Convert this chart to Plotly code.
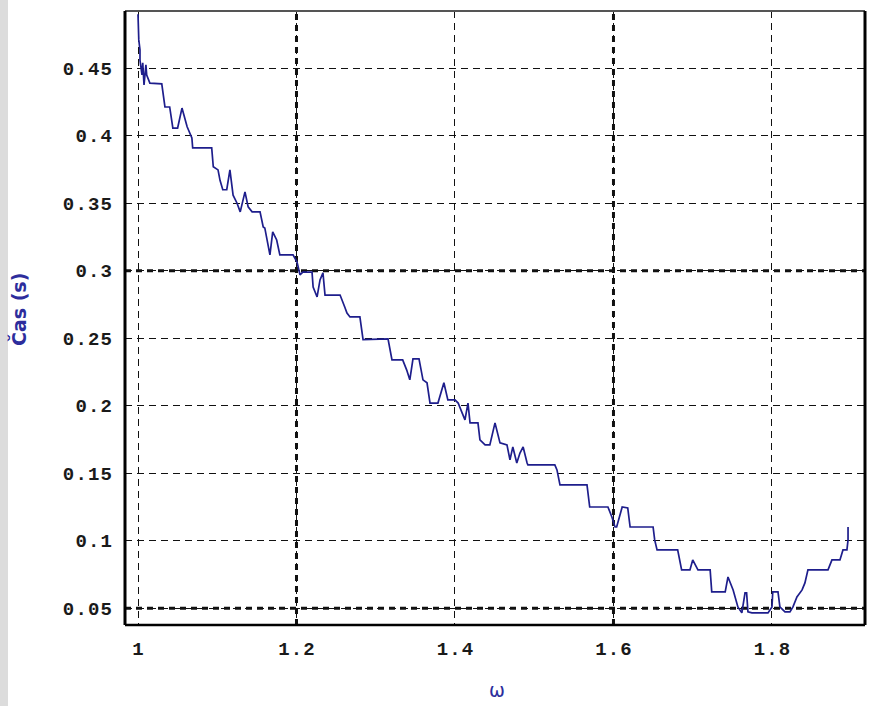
import plotly.graph_objects as go

omega = [1.000, 1.001, 1.0025, 1.0025, 1.005, 1.006, 1.0076, 1.010, 1.011, 1.015,
         1.030, 1.034, 1.040, 1.044, 1.050, 1.0555, 1.062, 1.068, 1.069, 1.093,
         1.095, 1.101, 1.1035, 1.107, 1.112, 1.116, 1.120, 1.125, 1.129, 1.135,
         1.139, 1.144, 1.154, 1.158, 1.160, 1.164, 1.1665, 1.170, 1.175, 1.179,
         1.1956, 1.2006, 1.2044, 1.208, 1.2196, 1.221, 1.226, 1.2297, 1.2334, 1.236,
         1.255, 1.261, 1.2637, 1.2675, 1.280, 1.284, 1.3155, 1.3205, 1.334, 1.339,
         1.343, 1.347, 1.3546, 1.3596, 1.3647, 1.3685, 1.3785, 1.386, 1.391, 1.400,
         1.404, 1.409, 1.4126, 1.4164, 1.419, 1.429, 1.4315, 1.438, 1.444, 1.4505,
         1.4568, 1.4656, 1.4694, 1.473, 1.478, 1.482, 1.486, 1.491, 1.492, 1.526,
         1.5287, 1.5325, 1.5666, 1.570, 1.593, 1.598, 1.602, 1.604, 1.611, 1.618,
         1.621, 1.650, 1.652, 1.655, 1.681, 1.686, 1.6965, 1.700, 1.7066, 1.722,
         1.724, 1.741, 1.7445, 1.751, 1.757, 1.762, 1.766, 1.768, 1.7697, 1.7747,
         1.795, 1.800, 1.801, 1.8076, 1.810, 1.8164, 1.8227, 1.8265, 1.8315, 1.838,
         1.8416, 1.8454, 1.8707, 1.8757, 1.8858, 1.8896, 1.8946, 1.896, 1.896]

cas = [0.490, 0.471, 0.4636, 0.4561, 0.445, 0.454, 0.4376, 0.4525, 0.445, 0.439,
       0.4384, 0.4213, 0.4213, 0.4057, 0.4057, 0.4205, 0.4066, 0.3983, 0.391, 0.391,
       0.377, 0.3747, 0.367, 0.360, 0.360, 0.3747, 0.356, 0.350, 0.3436, 0.3584,
       0.3473, 0.3436, 0.3436, 0.3325, 0.3317, 0.3177, 0.3118, 0.3288, 0.3228, 0.3118,
       0.3118, 0.3066, 0.297, 0.299, 0.299, 0.288, 0.2806, 0.2932, 0.2984, 0.282,
       0.282, 0.273, 0.2687, 0.2658, 0.2658, 0.249, 0.2496, 0.234, 0.234, 0.2266,
       0.2192, 0.2347, 0.2347, 0.2192, 0.217, 0.202, 0.202, 0.217, 0.2043, 0.2043,
       0.202, 0.1947, 0.1895, 0.202, 0.1873, 0.1873, 0.1747, 0.171, 0.171, 0.1873,
       0.1725, 0.171, 0.1599, 0.1695, 0.1576, 0.165, 0.1695, 0.1576, 0.1562, 0.1562,
       0.1525, 0.1414, 0.1414, 0.125, 0.125, 0.1176, 0.1102, 0.1102, 0.125, 0.1243,
       0.1102, 0.1102, 0.1006, 0.0932, 0.0932, 0.0784, 0.0784, 0.0858, 0.0784, 0.0784,
       0.0621, 0.0621, 0.0732, 0.0636, 0.0510, 0.0466, 0.0614, 0.0614, 0.0473, 0.0466,
       0.0466, 0.0510, 0.0621, 0.0621, 0.0510, 0.0473, 0.0473, 0.0510, 0.0584, 0.0636,
       0.0688, 0.0784, 0.0784, 0.0858, 0.0858, 0.0932, 0.0932, 0.1006, 0.1102]

x_ticks = [1.0, 1.2, 1.4, 1.6, 1.8]
x_labels = ["1", "1.2", "1.4", "1.6", "1.8"]
y_ticks = [0.05, 0.1, 0.15, 0.2, 0.25, 0.3, 0.35, 0.4, 0.45]
y_labels = ["0.05", "0.1", "0.15", "0.2", "0.25", "0.3", "0.35", "0.4", "0.45"]
x_bold = [1.2, 1.6]
y_bold = [0.05, 0.3]

x_title = "ω"
y_title = "Čas (s)"

def spaced(s):
    return "\u200a".join(list(s))

W, H = 870, 706
L, R, T, B = 125, 5, 11, 81
pw = W - L - R
ph = H - T - B

fig = go.Figure()
fig.add_trace(go.Scatter(x=omega, y=cas, mode="lines",
                         line=dict(color="#1e1e8c", width=1.7),
                         showlegend=False, hoverinfo="x+y"))

tickfont = dict(family="Liberation Mono", size=19, color="#1a1a1a", weight="bold")

fig.update_layout(
    width=W, height=H,
    margin=dict(l=L, r=R, t=T, b=B),
    paper_bgcolor="white", plot_bgcolor="white",
    xaxis=dict(range=[0.9836, 1.9174], tickvals=x_ticks,
               ticktext=[spaced(s) for s in x_labels],
               showgrid=True, gridcolor="#111111", gridwidth=1.3, griddash="7px,5px",
               zeroline=False, showline=False, ticks="", tickfont=tickfont,
               ticklabelstandoff=10),
    yaxis=dict(range=[0.0376, 0.4924], tickvals=y_ticks,
               ticktext=[spaced(s) for s in y_labels],
               showgrid=True, gridcolor="#111111", gridwidth=1.3, griddash="7px,5px",
               zeroline=False, showline=False, ticks="", tickfont=tickfont,
               ticklabelstandoff=12),
)

shapes = []
for xv in x_bold:
    shapes.append(dict(type="line", xref="x", yref="paper", x0=xv, x1=xv, y0=0, y1=1,
                       line=dict(color="#111111", width=3, dash="6px,5px"), layer="below"))
for yv in y_bold:
    shapes.append(dict(type="line", xref="paper", yref="y", x0=0, x1=1, y0=yv, y1=yv,
                       line=dict(color="#111111", width=3, dash="6px,5px"), layer="below"))
# frame
shapes.append(dict(type="line", xref="paper", yref="paper", x0=0, x1=1, y0=1, y1=1,
                   line=dict(color="#555555", width=2)))
shapes.append(dict(type="line", xref="paper", yref="paper", x0=0, x1=1, y0=0, y1=0,
                   line=dict(color="#000000", width=2.5)))
shapes.append(dict(type="line", xref="paper", yref="paper", x0=0, x1=0, y0=0, y1=1,
                   line=dict(color="#000000", width=3)))
shapes.append(dict(type="line", xref="paper", yref="paper", x0=1, x1=1, y0=0, y1=1,
                   line=dict(color="#000000", width=3)))
# gray strip at left edge of the page
shapes.append(dict(type="rect", xref="paper", yref="paper",
                   x0=-L / pw, x1=(8 - L) / pw, y0=-B / ph, y1=1 + T / ph,
                   fillcolor="#dcdcdc", line=dict(width=0), layer="below"))
fig.update_layout(shapes=shapes)

fig.add_annotation(text=y_title, xref="paper", yref="paper",
                   x=(18 - L) / pw, y=(H - B - 310) / ph, showarrow=False, textangle=-90,
                   font=dict(family="DejaVu Sans", size=19, color="#2d2d9c", weight="bold"),
                   xanchor="center", yanchor="middle")
fig.add_annotation(text=x_title, xref="paper", yref="paper",
                   x=(497 - L) / pw, y=(H - B - 690) / ph, showarrow=False,
                   font=dict(family="DejaVu Sans", size=19, color="#2d2d9c"),
                   xanchor="center", yanchor="middle")

fig.write_html("out.html")
